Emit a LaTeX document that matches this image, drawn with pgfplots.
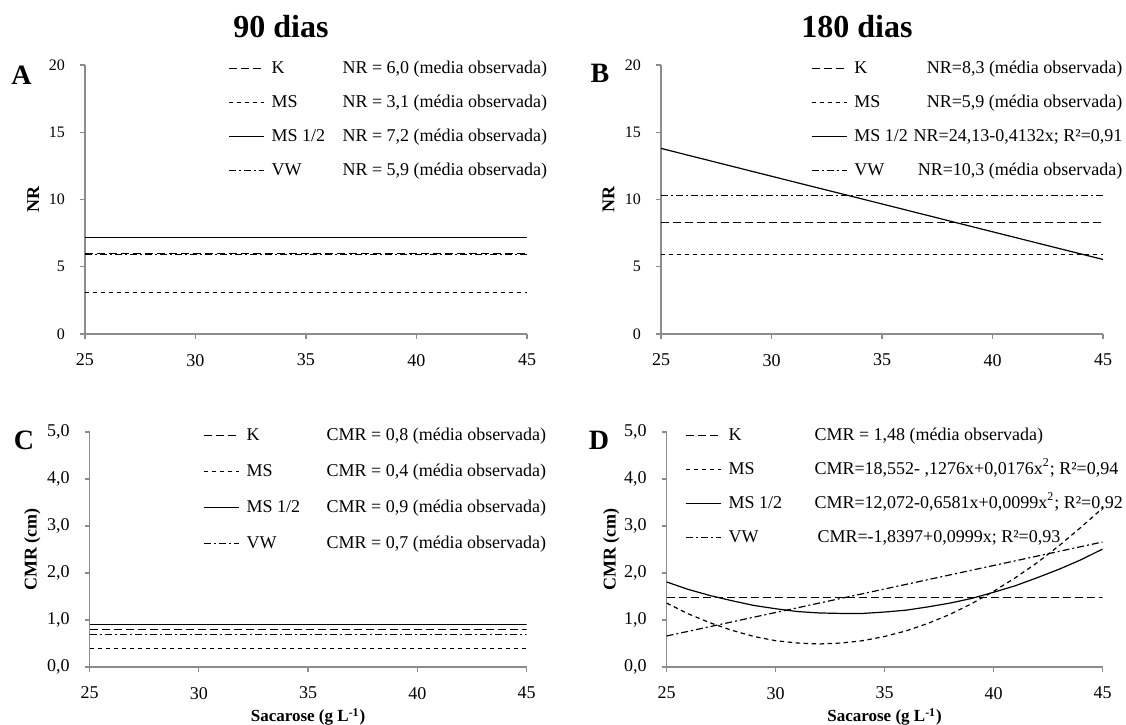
\documentclass[border=0pt]{standalone}
\usepackage{fontspec}
\setmainfont{Liberation Serif}
\usepackage{pgfplots}
\pgfplotsset{compat=1.18}

\definecolor{axgray}{RGB}{140,140,140}

\tikzset{
  kst/.style={black, line width=0.6pt, dash pattern=on 4pt off 2pt},
  msst/.style={black, line width=0.6pt, dash pattern=on 2.2pt off 1.8pt},
  mshst/.style={black, line width=0.6pt},
  vwst/.style={black, line width=0.6pt, dash pattern=on 3.5pt off 1.5pt on 1pt off 1.5pt},
}

\pgfplotsset{
  panel/.style={
    scale only axis,
    anchor=south west,
    axis x line*=bottom, axis y line*=left,
    axis line style={axgray, line width=0.6pt},
    tick style={axgray, line width=0.6pt},
    major tick length=2.5pt,
    tick align=outside,
    xmin=25, xmax=45, xtick={25,30,...,45},
    /pgf/number format/assume math mode=true,
    xticklabel style={font=\fontsize{9}{10}\selectfont, yshift=-4pt},
    yticklabel style={xshift=-4pt},
    ylabel style={font=\fontsize{9}{10}\selectfont\bfseries, anchor=center},
    xlabel style={font=\fontsize{8.5}{10}\selectfont\bfseries, anchor=center},
    legend cell align=left,
    legend image code/.code={\draw[##1] (0pt,0pt) -- (17.5pt,0pt);},
    legend style={draw=none, fill=none, inner sep=0pt, anchor=north west,
      column sep=3.5pt,
      font=\fontsize{9}{10}\selectfont,
      nodes={inner sep=0pt, text height=7pt, text depth=2pt}},
  },
  nrpanel/.style={panel, width=221pt, height=134.5pt,
    ymin=0, ymax=20, ytick={0,5,...,20},
    yticklabel style={font=\fontsize{8}{9}\selectfont}},
  cmrpanel/.style={panel, height=117.5pt,
    ymin=0, ymax=5, ytick={0,1,...,5},
    yticklabel style={font=\fontsize{9}{10}\selectfont,
      /pgf/number format/.cd, fixed, fixed zerofill, precision=1, use comma},
    xlabel={Sacarose (g L\textsuperscript{-1})},
    xlabel style={at={(axis description cs:0.5,-0.213)}}},
}

\begin{document}
\begin{tikzpicture}
\path[use as bounding box] (0pt,0pt) rectangle (563pt,-362pt);

% titles and panel letters
\node[font=\fontsize{16}{18}\selectfont\bfseries] at (140.5pt,-13.5pt) {90 dias};
\node[font=\fontsize{16}{18}\selectfont\bfseries] at (428.5pt,-13.5pt) {180 dias};
\node[font=\fontsize{14}{16}\selectfont\bfseries] at (10.8pt,-37.5pt) {A};
\node[font=\fontsize{14}{16}\selectfont\bfseries] at (300pt,-36.5pt) {B};
\node[font=\fontsize{14}{16}\selectfont\bfseries] at (12pt,-220pt) {C};
\node[font=\fontsize{14}{16}\selectfont\bfseries] at (299.5pt,-220pt) {D};

% A: 90 dias, NR
\begin{axis}[nrpanel, at={(42.5pt,-167pt)},
  ylabel={NR}, ylabel style={at={(axis description cs:-0.117,0.5)}},
  legend style={at={(axis description cs:0.3235,1.022)}, row sep=8pt}]
\addplot[kst] coordinates {(25,6.0) (45,6.0)};
\addlegendentry{\makebox[35.5pt][l]{K}NR = 6,0 (media observada)}
\addplot[msst] coordinates {(25,3.1) (45,3.1)};
\addlegendentry{\makebox[35.5pt][l]{MS}NR = 3,1 (média observada)}
\addplot[mshst] coordinates {(25,7.2) (45,7.2)};
\addlegendentry{\makebox[35.5pt][l]{MS 1/2}NR = 7,2 (média observada)}
\addplot[vwst] coordinates {(25,5.9) (45,5.9)};
\addlegendentry{\makebox[35.5pt][l]{VW}NR = 5,9 (média observada)}
\end{axis}

% B: 180 dias, NR
\begin{axis}[nrpanel, at={(330.5pt,-167pt)},
  ylabel={NR}, ylabel style={at={(axis description cs:-0.119,0.5)}},
  legend style={at={(axis description cs:0.339,1.022)}, row sep=8pt}]
\addplot[kst] coordinates {(25,8.3) (45,8.3)};
\addlegendentry{\makebox[134pt]{K\hfill NR=8,3 (média observada)}}
\addplot[msst] coordinates {(25,5.9) (45,5.9)};
\addlegendentry{\makebox[134pt]{MS\hfill NR=5,9 (média observada)}}
\addplot[mshst] coordinates {(25,13.80) (30,11.73) (35,9.67) (40,7.60) (45,5.54)};
\addlegendentry{\makebox[134pt]{MS 1/2\hfill NR=24,13-0,4132x; R²=0,91}}
\addplot[vwst] coordinates {(25,10.3) (45,10.3)};
\addlegendentry{\makebox[134pt]{VW\hfill NR=10,3 (média observada)}}
\end{axis}

% C: 90 dias, CMR
\begin{axis}[cmrpanel, width=218.5pt, at={(44.8pt,-333.5pt)},
  ylabel={CMR (cm)}, ylabel style={at={(axis description cs:-0.131,0.5)}},
  legend style={at={(axis description cs:0.2595,1.0255)}, row sep=9pt}]
\addplot[kst] coordinates {(25,0.8) (45,0.8)};
\addlegendentry{\makebox[40pt][l]{K}CMR = 0,8 (média observada)}
\addplot[msst] coordinates {(25,0.4) (45,0.4)};
\addlegendentry{\makebox[40pt][l]{MS}CMR = 0,4 (média observada)}
\addplot[mshst] coordinates {(25,0.9) (45,0.9)};
\addlegendentry{\makebox[40pt][l]{MS 1/2}CMR = 0,9 (média observada)}
\addplot[vwst] coordinates {(25,0.7) (45,0.7)};
\addlegendentry{\makebox[40pt][l]{VW}CMR = 0,7 (média observada)}
\end{axis}

% D: 180 dias, CMR
\begin{axis}[cmrpanel, width=218pt, at={(333.3pt,-333.5pt)},
  ylabel={CMR (cm)}, ylabel style={at={(axis description cs:-0.127,0.5)}},
  legend style={at={(axis description cs:0.042,1.0255)}, row sep=8pt}]
\addplot[kst] coordinates {(25,1.48) (45,1.48)};
\addlegendentry{\makebox[43pt][l]{K}CMR = 1,48 (média observada)}
\addplot[msst] coordinates {
  (25,1.36) (26,1.13) (27,0.94) (28,0.78) (29,0.65) (30,0.56) (31,0.51)
  (32,0.49) (33,0.51) (34,0.56) (35,0.65) (36,0.77) (37,0.93) (38,1.12)
  (39,1.35) (40,1.61) (41,1.90) (42,2.22) (43,2.58) (44,2.97) (45,3.38)};
\addlegendentry{\makebox[43pt][l]{MS}CMR=18,552- ,1276x+0,0176x\textsuperscript{2}; R²=0,94}
\addplot[mshst] coordinates {
  (25,1.81) (26,1.65) (27,1.52) (28,1.41) (29,1.31) (30,1.24) (31,1.18)
  (32,1.15) (33,1.14) (34,1.14) (35,1.17) (36,1.21) (37,1.28) (38,1.36)
  (39,1.46) (40,1.59) (41,1.73) (42,1.90) (43,2.08) (44,2.28) (45,2.51)};
\addlegendentry{\makebox[43pt][l]{MS 1/2}CMR=12,072-0,6581x+0,0099x\textsuperscript{2}; R²=0,92}
\addplot[vwst] coordinates {(25,0.66) (45,2.66)};
\addlegendentry{\makebox[43pt][l]{VW}\hspace{1.5pt}CMR=-1,8397+0,0999x; R²=0,93}
\end{axis}
\end{tikzpicture}
\end{document}
